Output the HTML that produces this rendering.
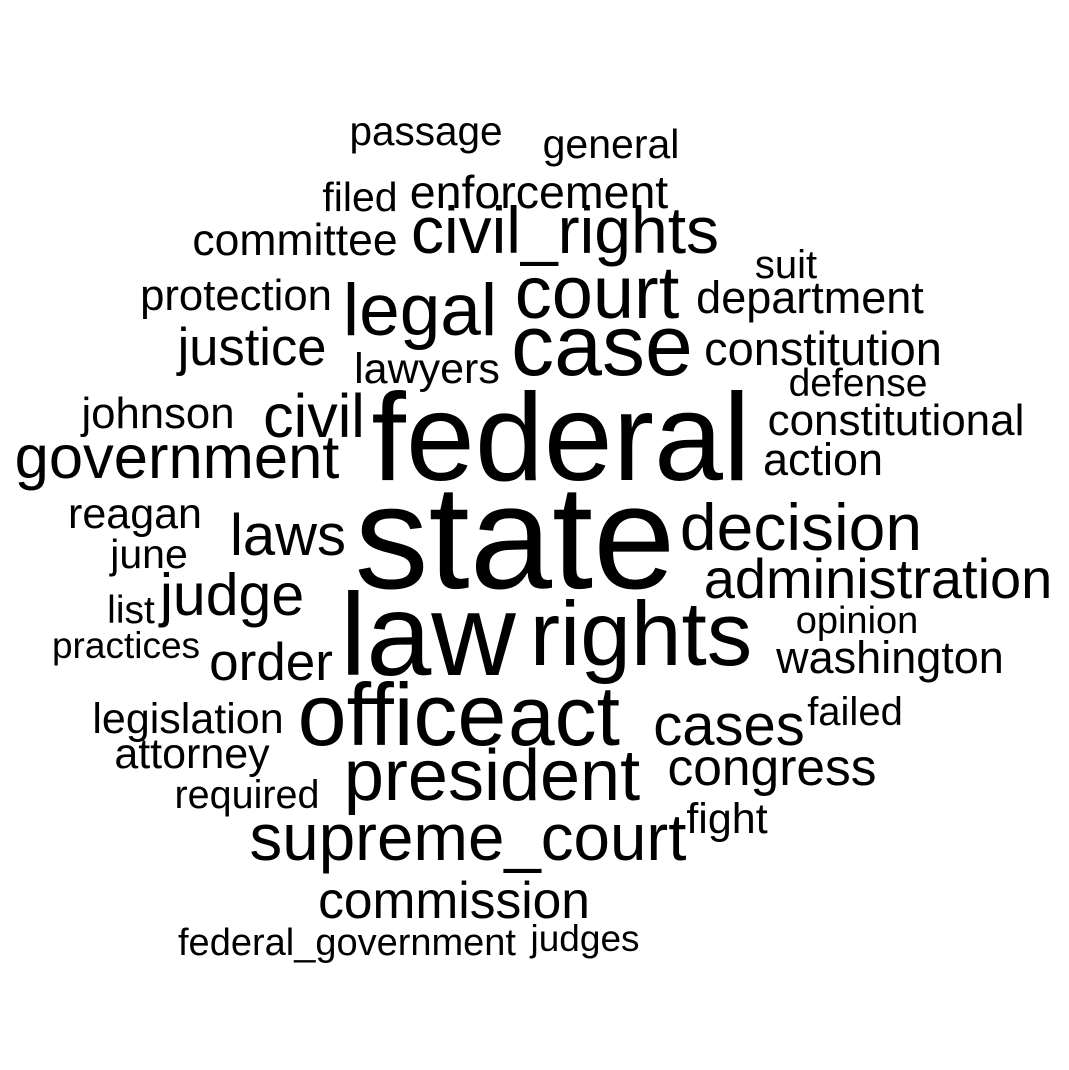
<!DOCTYPE html>
<html>
<head>
<meta charset="utf-8">
<style>
html,body{margin:0;padding:0;background:#fff;}
svg{display:block;}
text{font-family:"Liberation Sans",Arial,sans-serif;fill:#000;}
</style>
</head>
<body>
<svg id="cloud" width="1069" height="1070" viewBox="0 0 1069 1070"></svg>
<script>
const words = ["federal","state","law","rights","office","act","case","court","legal","civil_rights","president","supreme_court","decision","government","administration","justice","civil","laws","judge","order","cases","congress","commission","constitution","constitutional","action","department","washington","enforcement","committee","protection","johnson","reagan","june","list","practices","legislation","attorney","required","federal_government","judges","fight","failed","opinion","defense","suit","lawyers","filed","passage","general"];
const sizes = [124,148,117,91,88,84,86,74,73,66,72,65.5,66,61.5,56,52.5,61,58,59,53,58,51.5,51.5,47,44,45,45,45,46.5,44.5,43.7,43.7,43,41,39,37,43,43,39.5,38,37,43,40,38,39,40,43,41,40.5,41];
const layoutX = [561,515,428,641,402,564,602,597,420,565,492,468,801,177,878,252,314,288,232,271,729,772,454,823,896,823,810,890,539,295,236,158,135,149,131,126,188,192,247,347,585,727,855,857,858,786,427,360,426,611];
const layoutY = [480,588,675,665,745,745,375,318,335,253,800,860,550,478,598,365,437,555,615,680,745,785,918,362,432,472,310,670,205,252,307,425,525,565,620,655,730,765,805,952,948,830,722,630,393,275,380,208,142,155];

const svg = document.getElementById('cloud');
const NS = 'http://www.w3.org/2000/svg';
for (let i = 0; i < words.length; i++) {
  const t = document.createElementNS(NS, 'text');
  t.setAttribute('x', layoutX[i]);
  t.setAttribute('y', layoutY[i] + (sizes[i] < 50 ? 3 : 0));
  t.setAttribute('font-size', sizes[i]);
  t.setAttribute('text-anchor', 'middle');
  t.textContent = words[i];
  
  
  svg.appendChild(t);
}
</script>
</body>
</html>
